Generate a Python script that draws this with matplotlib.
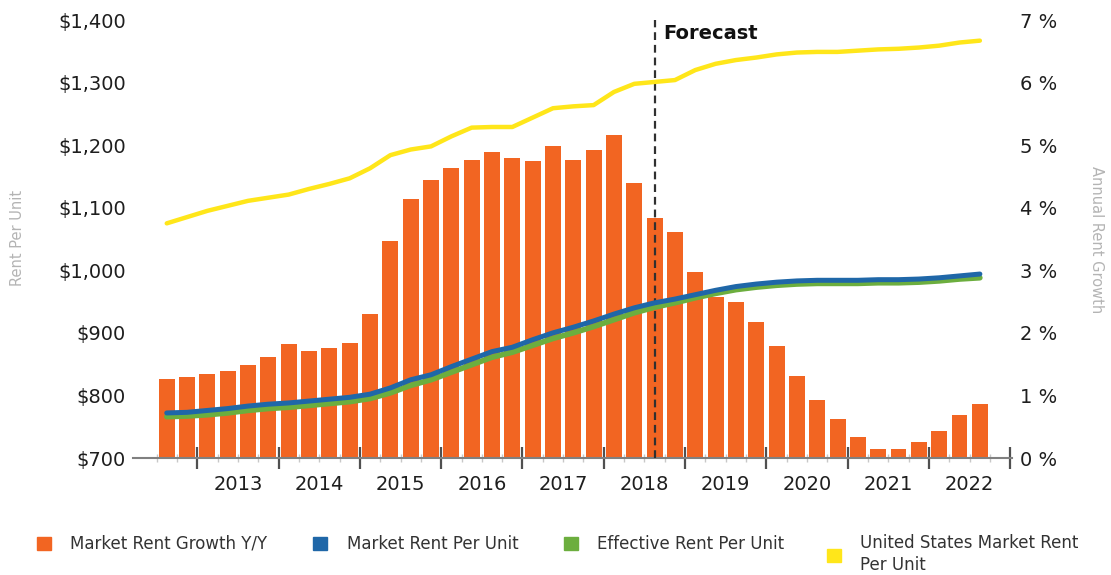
import matplotlib
matplotlib.use("Agg")
import matplotlib.pyplot as plt
import matplotlib.transforms as mtransforms
from matplotlib.patches import Patch
import numpy as np

plt.rcParams['font.family'] = ['DejaVu Sans']

# ---------------- data ----------------
quarters = ["2012Q3", "2012Q4",
            "2013Q1", "2013Q2", "2013Q3", "2013Q4",
            "2014Q1", "2014Q2", "2014Q3", "2014Q4",
            "2015Q1", "2015Q2", "2015Q3", "2015Q4",
            "2016Q1", "2016Q2", "2016Q3", "2016Q4",
            "2017Q1", "2017Q2", "2017Q3", "2017Q4",
            "2018Q1", "2018Q2", "2018Q3", "2018Q4",
            "2019Q1", "2019Q2", "2019Q3", "2019Q4",
            "2020Q1", "2020Q2", "2020Q3", "2020Q4",
            "2021Q1", "2021Q2", "2021Q3", "2021Q4",
            "2022Q1", "2022Q2", "2022Q3"]

growth_pct = [1.27, 1.30, 1.35, 1.39, 1.49, 1.62, 1.82, 1.71, 1.76, 1.83,
              2.30, 3.47, 4.14, 4.44, 4.64, 4.77, 4.89, 4.79, 4.74, 4.98,
              4.77, 4.93, 5.16, 4.40, 3.84, 3.61, 2.97, 2.58, 2.50, 2.17,
              1.79, 1.31, 0.92, 0.62, 0.34, 0.15, 0.15, 0.25, 0.43, 0.68, 0.86]

market_rent = [772, 773, 776, 779, 783, 786, 788, 791, 794, 797,
               802, 812, 825, 833, 846, 858, 870, 877, 889, 900,
               909, 919, 930, 940, 948, 954, 961, 968, 974, 978,
               981, 983, 984, 984, 984, 985, 985, 986, 988, 991, 994]

effective_rent = [766, 767, 769, 772, 776, 779, 781, 784, 787, 790,
                  795, 804, 816, 825, 837, 849, 861, 869, 880, 891,
                  900, 910, 921, 932, 941, 948, 956, 963, 969, 973,
                  976, 978, 979, 979, 979, 980, 980, 981, 983, 986, 988]

us_rent = [1075, 1085, 1095, 1103, 1111, 1116, 1121, 1130, 1138, 1147,
           1163, 1184, 1193, 1198, 1214, 1228, 1229, 1229, 1244, 1259,
           1262, 1264, 1285, 1298, 1301, 1304, 1320, 1330, 1336, 1340,
           1345, 1348, 1349, 1349, 1351, 1353, 1354, 1356, 1359, 1364, 1367]

year_labels = [2013, 2014, 2015, 2016, 2017, 2018, 2019, 2020, 2021, 2022]
rent_ticks = [700, 800, 900, 1000, 1100, 1200, 1300, 1400]
pct_ticks = [0, 1, 2, 3, 4, 5, 6, 7]
forecast_quarter = "2018Q3"

legend_labels = ["Market Rent Growth Y/Y", "Market Rent Per Unit",
                 "Effective Rent Per Unit", "United States Market Rent\nPer Unit"]

# ---------------- styles ----------------
C_BAR = "#F26522"
C_BLUE = "#1F67A8"
C_GREEN = "#6CAE3E"
C_YELLOW = "#FFE61A"
C_TEXT = "#1e1e1e"
C_LABEL = "#b4b4b4"


def qpos(q):
    y, n = q.split("Q")
    return int(y) + (int(n) - 0.5) / 4.0


x = np.array([qpos(q) for q in quarters])
fx = qpos(forecast_quarter)

W, H = 1111, 575
fig = plt.figure(figsize=(W / 100, H / 100), dpi=100)
ax = fig.add_axes([133 / W, 117 / H, 879 / W, 438 / H])
ax2 = ax.twinx()

# bars (right axis, percent)
ax.bar(x, growth_pct, width=0.195, color=C_BAR, zorder=2)
ax.set_ylim(0, 7)
ax.set_xlim(2012.21, 2023.02)

# lines (left axis, $)
ax2.plot(x, us_rent, color=C_YELLOW, lw=3.2, solid_capstyle='round', zorder=3)
ax2.plot(x, effective_rent, color=C_GREEN, lw=4, solid_capstyle='round', zorder=3)
ax2.plot(x, market_rent, color=C_BLUE, lw=3.6, solid_capstyle='round', zorder=4)
ax2.set_ylim(700, 1400)

# axis sides
ax.yaxis.tick_right()
ax2.yaxis.tick_left()
ax.set_yticks(pct_ticks, [f"{v} %" for v in pct_ticks])
ax2.set_yticks(rent_ticks, [f"${v:,}" for v in rent_ticks])
ax.tick_params(axis='y', length=0, pad=6, labelsize=14, labelcolor=C_TEXT)
ax2.tick_params(axis='y', length=0, pad=5, labelsize=14, labelcolor=C_TEXT)

for s in ax.spines.values():
    s.set_visible(False)
for s in ax2.spines.values():
    s.set_visible(False)
ax.spines['bottom'].set_visible(True)
ax.spines['bottom'].set_color('#808080')
ax.spines['bottom'].set_linewidth(1.5)

# x ticks: year boundaries (major) and quarter boundaries (minor)
bounds = [yv for yv in year_labels] + [year_labels[-1] + 1]
ax.set_xticks(bounds)
ax.set_xticks(np.arange(2012.5, 2023.0, 0.25), minor=True)
ax.tick_params(axis='x', which='major', direction='inout', length=16, width=1.6,
               color='#505050', labelbottom=False)
ax.tick_params(axis='x', which='minor', direction='inout', length=6, width=1,
               color='#c8c8c8', labelbottom=False)

sec = ax.secondary_xaxis('bottom')
sec.set_xticks([yv + 0.5 for yv in year_labels], [str(yv) for yv in year_labels])
sec.tick_params(length=0, pad=12, labelsize=14, labelcolor=C_TEXT)
sec.spines['bottom'].set_visible(False)

# forecast marker
ax.axvline(fx, color='#303030', lw=1.6, ls=(0, (3.5, 2.2)), zorder=5)
trans = mtransforms.blended_transform_factory(ax.transData, ax.transAxes)
ax.text(fx + 0.11, 0.97, "Forecast", transform=trans, ha='left', va='center',
        fontsize=14, fontweight='bold', color='#111111', zorder=6)

# axis titles
fig.text(18 / W, 1 - 238 / H, "Rent Per Unit", rotation=90, ha='center',
         va='center', fontsize=10.5, color=C_LABEL)
fig.text(1097 / W, 1 - 240 / H, "Annual Rent Growth", rotation=270, ha='center',
         va='center', fontsize=10.5, color=C_LABEL)

# legend (first three items in one row, the two-line item separately)
colors = (C_BAR, C_BLUE, C_GREEN, C_YELLOW)
handles = [Patch(color=c) for c in colors]
common = dict(frameon=False, fontsize=12, handlelength=0.85, handleheight=0.85,
              handletextpad=1.15, borderpad=0, borderaxespad=0)
leg1 = fig.legend(handles[:3], legend_labels[:3], loc='upper left',
                  bbox_to_anchor=(37 / W, 1 - 535 / H), ncol=3,
                  columnspacing=2.75, **common)
leg2 = fig.legend(handles[3:], legend_labels[3:], loc='upper left',
                  bbox_to_anchor=(827 / W, 1 - 534 / H), **common)
for lg in (leg1, leg2):
    for t in lg.get_texts():
        t.set_color('#333333')
        t.set_linespacing(1.3)

fig.savefig("out.png", dpi=100)
